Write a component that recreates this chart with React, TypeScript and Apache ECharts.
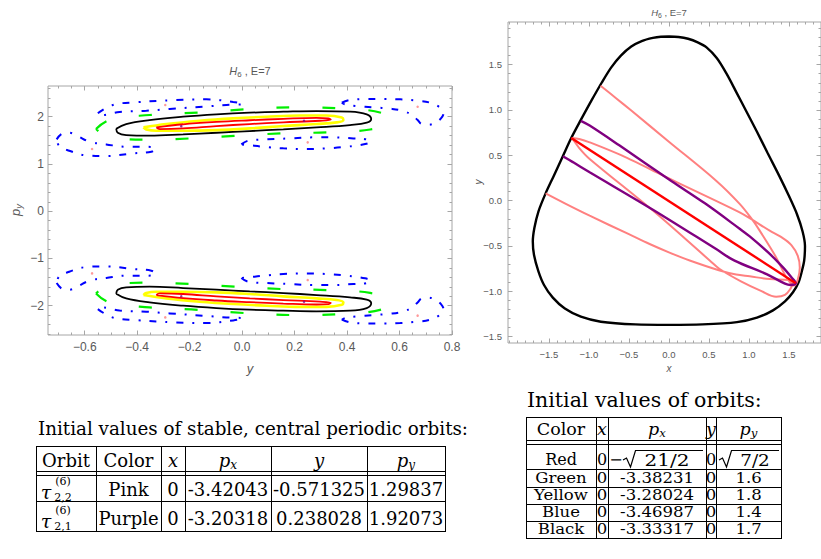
import React, { useEffect, useRef } from 'react';
import * as echarts from 'echarts';

// ---------- Left panel: Poincaré section (y, p_y) — upper half; the lower half is its mirror p_y -> -p_y
const sectionBlack: number[][] = [
  [-0.48, 1.746], [-0.442, 1.845], [-0.353, 1.929], [-0.225, 2.0], [-0.098, 2.05], [0.029, 2.085],
  [0.157, 2.106], [0.284, 2.12], [0.411, 2.106], [0.475, 2.05], [0.492, 1.95], [0.475, 1.873],
  [0.411, 1.824], [0.284, 1.774], [0.157, 1.732], [0.029, 1.697], [-0.098, 1.661], [-0.225, 1.626],
  [-0.353, 1.598], [-0.442, 1.612], [-0.474, 1.661], [-0.48, 1.746],
];
const sectionYellow: number[][] = [
  [-0.376, 1.774], [-0.289, 1.845], [-0.162, 1.915], [-0.034, 1.965], [0.093, 2.0], [0.22, 2.025],
  [0.322, 2.025], [0.38, 1.982], [0.386, 1.93], [0.36, 1.88], [0.284, 1.845], [0.157, 1.802],
  [0.029, 1.753], [-0.098, 1.717], [-0.225, 1.704], [-0.327, 1.704], [-0.366, 1.732], [-0.376, 1.774],
];
const sectionRed: number[][] = [
  [-0.327, 1.774], [-0.225, 1.84], [-0.098, 1.89], [0.029, 1.925], [0.157, 1.955], [0.284, 1.975],
  [0.329, 1.965], [0.338, 1.94], [0.297, 1.915], [0.157, 1.88], [0.029, 1.845], [-0.098, 1.802],
  [-0.225, 1.752], [-0.314, 1.738], [-0.327, 1.774],
];
const sectionGreen: number[][] = [
  [-0.557, 1.74], [-0.506, 1.93], [-0.353, 2.036], [-0.16, 2.09], [0.025, 2.16], [0.208, 2.198],
  [0.375, 2.177], [0.539, 2.07], [0.562, 1.885], [0.488, 1.73], [0.325, 1.67], [0.148, 1.647],
  [-0.03, 1.595], [-0.2, 1.54], [-0.347, 1.513], [-0.503, 1.558], [-0.557, 1.74],
];
const blueIslandLeft: number[][] = [
  [-0.707, 1.52], [-0.684, 1.647], [-0.659, 1.661], [-0.627, 1.591], [-0.582, 1.471], [-0.518, 1.414],
  [-0.442, 1.365], [-0.366, 1.365], [-0.33, 1.33], [-0.346, 1.259], [-0.417, 1.224], [-0.518, 1.168],
  [-0.595, 1.182], [-0.659, 1.28], [-0.697, 1.379], [-0.707, 1.52],
];
const blueIslandTopLeft: number[][] = [
  [-0.55, 2.072], [-0.493, 2.248], [-0.404, 2.305], [-0.251, 2.353], [-0.136, 2.368], [-0.034, 2.311],
  [0.004, 2.269], [-0.06, 2.248], [-0.149, 2.212], [-0.276, 2.163], [-0.365, 2.127], [-0.467, 2.1],
  [-0.537, 2.036], [-0.55, 2.072],
];
const blueIslandBottomRight: number[][] = [
  [-0.003, 1.414], [0.023, 1.492], [0.093, 1.52], [0.182, 1.541], [0.271, 1.563], [0.348, 1.563],
  [0.424, 1.541], [0.475, 1.52], [0.49, 1.471], [0.469, 1.421], [0.399, 1.365], [0.322, 1.33],
  [0.246, 1.316], [0.157, 1.33], [0.08, 1.365], [0.023, 1.4], [-0.003, 1.414],
];
const blueIslandRight: number[][] = [
  [0.38, 2.296], [0.411, 2.353], [0.475, 2.374], [0.539, 2.374], [0.603, 2.367], [0.666, 2.339],
  [0.717, 2.296], [0.753, 2.198], [0.768, 2.085], [0.758, 1.965], [0.736, 1.873], [0.711, 1.831],
  [0.685, 1.845], [0.669, 1.93], [0.647, 2.035], [0.615, 2.12], [0.564, 2.17], [0.5, 2.198],
  [0.437, 2.226], [0.392, 2.261], [0.38, 2.296],
];
const pinkSectionPoints: number[][] = [[-0.572, 1.316], [-0.293, 2.247], [0.25, 1.457], [0.669, 2.21]];
const purpleSectionPoints: number[][] = [[-0.232, 1.8], [0.236, 1.914]];

// ---------- Right panel: orbits in the (x, y) plane
const zeroVelocityCurve: number[][] = [
  [0.0, 1.81], [0.12, 1.805], [0.24, 1.785], [0.36, 1.745], [0.47, 1.69], [0.6, 1.57], [0.72, 1.4],
  [0.84, 1.2], [0.97, 0.98], [1.1, 0.76], [1.23, 0.53], [1.38, 0.27], [1.5, 0.05], [1.6, -0.15],
  [1.67, -0.34], [1.7, -0.5], [1.69, -0.66], [1.66, -0.78], [1.62, -0.9], [1.55, -1.01],
  [1.45, -1.11], [1.3, -1.21], [1.1, -1.29], [0.85, -1.34], [0.42, -1.365], [0.0, -1.37],
  [-0.42, -1.365], [-0.85, -1.335], [-1.1, -1.28], [-1.3, -1.19], [-1.45, -1.07], [-1.56, -0.93],
  [-1.63, -0.78], [-1.685, -0.6], [-1.7, -0.45], [-1.68, -0.3], [-1.63, -0.12], [-1.54, 0.08],
  [-1.44, 0.27], [-1.325, 0.49], [-1.22, 0.69], [-1.1, 0.89], [-0.97, 1.1], [-0.84, 1.3],
  [-0.72, 1.47], [-0.6, 1.6], [-0.47, 1.7], [-0.34, 1.76], [-0.2, 1.795], [-0.1, 1.808], [0.0, 1.81],
];
const redOrbit: number[][] = [[-1.22, 0.69], [1.585, -0.91]];
const purpleOrbit: number[][] = [
  [-1.1, 0.88], [-0.99, 0.828], [-0.62, 0.61], [0.03, 0.217], [0.45, -0.03], [0.884, -0.31],
  [1.01, -0.395], [1.25, -0.58], [1.425, -0.736], [1.53, -0.845], [1.585, -0.91], [1.52, -0.93],
  [1.45, -0.915], [1.22, -0.81], [0.82, -0.662], [0.6, -0.54], [-0.2, -0.1], [-0.99, 0.313],
  [-1.2, 0.425], [-1.325, 0.49],
];
const pinkOrbit: number[][] = [
  [-0.854, 1.268], [-0.66, 1.13], [-0.47, 0.993], [0.0, 0.65], [0.59, 0.22], [0.884, -0.036],
  [1.05, -0.22], [1.134, -0.331], [1.34, -0.626], [1.45, -0.82], [1.52, -0.91], [1.57, -0.935],
  [1.61, -0.87], [1.635, -0.74], [1.61, -0.61], [1.53, -0.49], [1.4, -0.4], [1.259, -0.331],
  [1.03, -0.205], [0.884, -0.129], [0.09, 0.207], [-0.116, 0.294], [-0.53, 0.475], [-0.99, 0.643],
  [-1.12, 0.68], [-1.21, 0.69], [-1.12, 0.58], [-0.99, 0.46], [-0.2, -0.11], [0.51, -0.66],
  [0.634, -0.754], [0.9, -0.89], [1.15, -0.995], [1.34, -1.06], [1.45, -1.04], [1.52, -0.97],
  [1.545, -0.915], [1.5, -0.875], [1.26, -0.865], [1.01, -0.835], [0.84, -0.815], [0.634, -0.77],
  [0.26, -0.66], [0.0, -0.57], [-0.241, -0.478], [-0.5, -0.37], [-0.99, -0.166], [-1.3, -0.03],
  [-1.54, 0.08],
];

// ---------- Ticks
const leftXTicks = [-0.6, -0.4, -0.2, 0, 0.2, 0.4, 0.6, 0.8];
const leftYTicks = [-2, -1, 0, 1, 2];
const rightTicks = [-1.5, -1, -0.5, 0, 0.5, 1, 1.5];

// ---------- Tables
const table1Header = ['Orbit', 'Color', 'x', 'p_x', 'y', 'p_y'];
const table1Orbits = [['2,2', '(6)'], ['2,1', '(6)']];
const table1Rows = [
  ['Pink', '0', '-3.42043', '-0.571325', '1.29837'],
  ['Purple', '0', '-3.20318', '0.238028', '1.92073'],
];
const table2Header = ['Color', 'x', 'p_x', 'y', 'p_y'];
const table2Red = ['Red', '0', '21/2', '0', '7/2'];
const table2Rows = [
  ['Green', '0', '-3.38231', '0', '1.6'],
  ['Yellow', '0', '-3.28024', '0', '1.8'],
  ['Blue', '0', '-3.46987', '0', '1.4'],
  ['Black', '0', '-3.33317', '0', '1.7'],
];

const FRAME = '#a6a6a6';
const LABEL = '#595959';
const SANS = '"Liberation Sans", Arial, sans-serif';
const SERIF = '"DejaVu Serif", serif';

const mirror = (pts: number[][]) => pts.map(([a, b]) => [a, -b]);
const steps = (from: number, to: number, step: number) => {
  const out: number[] = [];
  const n = Math.round((to - from) / step);
  for (let i = 0; i <= n; i++) out.push(+(from + i * step).toFixed(4));
  return out;
};
const fmt = (d: number) => (v: number) => (v < -1e-9 ? '\u2212' : '') + Math.abs(v).toFixed(d);

function frameAxes(dim: 'x' | 'y', gridIndex: number, min: number, max: number, majors: number[], minors: number[], label: any) {
  const posA = dim === 'x' ? 'bottom' : 'left';
  const posB = dim === 'x' ? 'top' : 'right';
  const base = { type: 'value', gridIndex, min, max, splitLine: { show: false }, axisLine: { show: false, onZero: false } };
  const tick = (vals: number[], len: number) => ({ show: true, inside: true, length: len, customValues: vals, lineStyle: { color: FRAME, width: 1 } });
  return [
    { ...base, position: posA, axisTick: tick(majors, 4.5), axisLabel: { show: true, customValues: majors, ...label } },
    { ...base, position: posA, axisTick: tick(minors, 2.5), axisLabel: { show: false } },
    { ...base, position: posB, axisTick: tick(majors, 4.5), axisLabel: { show: false } },
    { ...base, position: posB, axisTick: tick(minors, 2.5), axisLabel: { show: false } },
  ];
}

function line(data: number[][], color: string, width: number, axis: number, z: number, type: any = 'solid', smooth = 0.4) {
  return {
    type: 'line', data, xAxisIndex: axis, yAxisIndex: axis, symbol: 'none', showSymbol: false, smooth,
    lineStyle: { color, width, type, cap: 'butt' }, z, silent: true,
  };
}
function dots(data: number[][], color: string, axis: number) {
  return { type: 'scatter', data, xAxisIndex: axis, yAxisIndex: axis, symbolSize: 2.5, itemStyle: { color }, z: 20, silent: true };
}

// graphic helpers
const hl = (x1: number, x2: number, y: number) => ({ type: 'line', shape: { x1, y1: y, x2, y2: y }, style: { stroke: '#000', lineWidth: 1 } });
const vl = (x: number, y1: number, y2: number) => ({ type: 'line', shape: { x1: x, y1, x2: x, y2 }, style: { stroke: '#000', lineWidth: 1 } });
const tx = (x: number, y: number, text: string, size = 18, italic = false, align = 'center', sx = 1) => ({
  type: 'text', x, y, scaleX: sx,
  style: { text, fontFamily: SERIF, fontSize: size, lineHeight: size, fontStyle: italic ? 'italic' : 'normal', fill: '#000', align, verticalAlign: 'middle' },
});
const mathHead = (x: number, y: number, h: string, size = 18) => {
  if (h.includes('_')) {
    const [b, s] = h.split('_');
    return {
      type: 'text', x, y,
      style: {
        text: `{b|${b}}{s|${s}}`, align: 'center', verticalAlign: 'middle',
        rich: {
          b: { fontFamily: SERIF, fontSize: size, fontStyle: 'italic', fill: '#000', lineHeight: size + 3 },
          s: { fontFamily: SERIF, fontSize: size * 0.67, fontStyle: 'italic', fill: '#000', lineHeight: size * 0.67, verticalAlign: 'bottom' },
        },
      },
    };
  }
  return tx(x, y, h, size, h.length === 1);
};
const plotTitle = (x: number, y: number, fs: number) => ({
  type: 'text', x, y,
  style: {
    text: '{h|H}{s|6}{n| , E=7}', align: 'center', verticalAlign: 'middle',
    rich: {
      h: { fontFamily: SANS, fontSize: fs, fontStyle: 'italic', fill: LABEL, lineHeight: fs + 4 },
      s: { fontFamily: SANS, fontSize: fs * 0.72, fill: LABEL, lineHeight: fs * 0.7, verticalAlign: 'bottom' },
      n: { fontFamily: SANS, fontSize: fs, fill: LABEL, lineHeight: fs + 4 },
    },
  },
});
const axisName = (x: number, y: number, text: string, fs: number, rot = 0) => ({
  type: 'text', x, y, rotation: rot,
  style: {
    text, align: 'center', verticalAlign: 'middle',
    rich: {
      b: { fontFamily: SANS, fontSize: fs, fontStyle: 'italic', fill: LABEL, lineHeight: fs + 4 },
      s: { fontFamily: SANS, fontSize: fs * 0.72, fontStyle: 'italic', fill: LABEL, lineHeight: fs * 0.7, verticalAlign: 'bottom' },
    },
  },
});

function buildGraphics() {
  const g: any[] = [];
  g.push(plotTitle(250, 71, 11));
  g.push(plotTitle(669, 12, 9.5));
  g.push(axisName(250, 368, '{b|y}', 13));
  g.push(axisName(15, 210, '{b|p}{s|y}', 13, Math.PI / 2));
  g.push(axisName(669, 368, '{b|x}', 10));
  g.push(axisName(478, 182, '{b|y}', 10, Math.PI / 2));

  // ---- Table 1
  g.push(tx(38, 428, 'Initial values of stable, central periodic orbits:', 18.3, false, 'left'));
  const c1 = [36, 96, 161, 185, 271, 367, 445];
  const r1 = [446, 471, 475, 501, 531];
  r1.forEach((y) => g.push(hl(c1[0], c1[c1.length - 1] + 1, y + 0.5)));
  c1.forEach((x) => g.push(vl(x + 0.5, r1[0], r1[r1.length - 1] + 1)));
  const mid1 = c1.slice(0, -1).map((x, i) => (x + c1[i + 1]) / 2);
  table1Header.forEach((h, i) => g.push(i < 2 ? tx(mid1[i], 460, h) : mathHead(mid1[i], 460, h)));
  const rowY1 = [489, 518];
  table1Rows.forEach((row, r) => {
    const y = rowY1[r];
    g.push(tx(46, y + 3, '\u03c4', 19, true));
    g.push(tx(63, y - 8, table1Orbits[r][1], 11));
    g.push(tx(63, y + 8, table1Orbits[r][0], 11));
    row.forEach((v, i) => g.push(tx(mid1[i + 1], y, v)));
  });

  // ---- Table 2
  g.push(tx(527, 400, 'Initial values of orbits:', 20.5, false, 'left'));
  const c2 = [526, 596, 608, 706, 716, 781];
  const r2 = [417, 440, 443.5, 469, 486.5, 503.5, 520.5, 538];
  r2.forEach((y) => g.push(hl(c2[0], c2[c2.length - 1] + 1, Math.round(y) + 0.5)));
  c2.forEach((x) => g.push(vl(x + 0.5, r2[0], r2[r2.length - 1] + 1)));
  const mid2 = c2.slice(0, -1).map((x, i) => (x + c2[i + 1]) / 2);
  const fs2 = 14.5;
  const sx2 = 1.14;
  table2Header.forEach((h, i) => g.push(i === 0 ? tx(mid2[i], 429, h, 17.5) : mathHead(mid2[i], 429, h, 17.5)));
  // Red row with square roots
  const ry = 459;
  g.push(tx(mid2[0], ry, table2Red[0], 16));
  g.push(tx(mid2[1], ry, table2Red[1], 16));
  g.push(tx(mid2[3], ry, table2Red[3], 16));
  g.push(tx(616, ry, '\u2212', 16));
  g.push({ type: 'polyline', shape: { points: [[623, 460], [626.5, 458], [630.5, 467], [635.5, 450.5], [703, 450.5]] }, style: { stroke: '#000', lineWidth: 1.2, fill: null } });
  g.push(tx(667, ry + 1, table2Red[2], 16, false, 'center', 1.25));
  g.push({ type: 'polyline', shape: { points: [[719, 460], [722.5, 458], [726.5, 467], [731.5, 450.5], [779, 450.5]] }, style: { stroke: '#000', lineWidth: 1.2, fill: null } });
  g.push(tx(755, ry + 1, table2Red[4], 16, false, 'center', 1.15));
  const rowY2 = [478, 495.5, 512.5, 529.5];
  table2Rows.forEach((row, r) => row.forEach((v, i) => g.push(tx(mid2[i], rowY2[r], v, fs2, false, 'center', sx2))));
  return g;
}

function buildOption() {
  const leftLabel = { formatter: fmt(1), color: LABEL, fontSize: 12, fontFamily: SANS, margin: 6 };
  const leftYLabel = { formatter: fmt(0), color: LABEL, fontSize: 12, fontFamily: SANS, margin: 4 };
  const rightLabel = { formatter: fmt(1), color: LABEL, fontSize: 9.5, fontFamily: SANS, margin: 6 };
  const xAxis = [
    ...frameAxes('x', 0, -0.74, 0.8, leftXTicks, steps(-0.7, 0.8, 0.05), leftLabel),
    ...frameAxes('x', 1, -2.01, 1.9, rightTicks, steps(-2.0, 1.9, 0.1), rightLabel),
  ];
  const yAxis = [
    ...frameAxes('y', 0, -2.62, 2.65, leftYTicks, steps(-2.6, 2.6, 0.2), leftYLabel),
    ...frameAxes('y', 1, -1.57, 1.97, rightTicks, steps(-1.5, 1.9, 0.1), rightLabel),
  ];
  const blueDash = [7, 9, 2, 9];
  const greenDash = [13, 33];
  const series: any[] = [];
  [(p: number[][]) => p, mirror].forEach((tr) => {
    [blueIslandLeft, blueIslandTopLeft, blueIslandBottomRight, blueIslandRight].forEach((isl) =>
      series.push(line(tr(isl), '#0000ff', 2, 0, 2, blueDash)),
    );
    series.push(line(tr(sectionGreen), '#00ee00', 2.2, 0, 3, greenDash));
    series.push(line(tr(sectionBlack), '#000000', 1.8, 0, 4));
    series.push(line(tr(sectionYellow), '#ffff00', 2.6, 0, 5));
    series.push(line(tr(sectionRed), '#ff0000', 1.8, 0, 6));
    series.push(dots(tr(pinkSectionPoints), '#ff8080', 0));
    series.push(dots(tr(purpleSectionPoints), '#800080', 0));
  });
  series.push(line(zeroVelocityCurve, '#000000', 2.4, 4, 3, 'solid', 0.3));
  series.push(line(pinkOrbit, '#ff8080', 2, 4, 4, 'solid', 0.35));
  series.push(line(purpleOrbit, '#800080', 2.4, 4, 5, 'solid', 0.35));
  series.push(line(redOrbit, '#ff0000', 2.4, 4, 6, 'solid', 0));

  return {
    animation: false,
    backgroundColor: '#ffffff',
    grid: [
      { left: 48, top: 86, width: 404, height: 249, show: true, borderColor: FRAME, borderWidth: 1, backgroundColor: 'transparent' },
      { left: 508, top: 22, width: 313, height: 321, show: true, borderColor: FRAME, borderWidth: 1, backgroundColor: 'transparent' },
    ],
    xAxis,
    yAxis,
    series,
    graphic: { elements: buildGraphics() },
  };
}

export default function App() {
  const ref = useRef<HTMLDivElement>(null);
  useEffect(() => {
    if (!ref.current) return;
    const chart = echarts.init(ref.current, null, { renderer: 'svg' });
    chart.setOption(buildOption() as any);
    return () => chart.dispose();
  }, []);
  return <div ref={ref} style={{ position: 'absolute', left: 0, top: 0, width: 821, height: 559 }} />;
}
